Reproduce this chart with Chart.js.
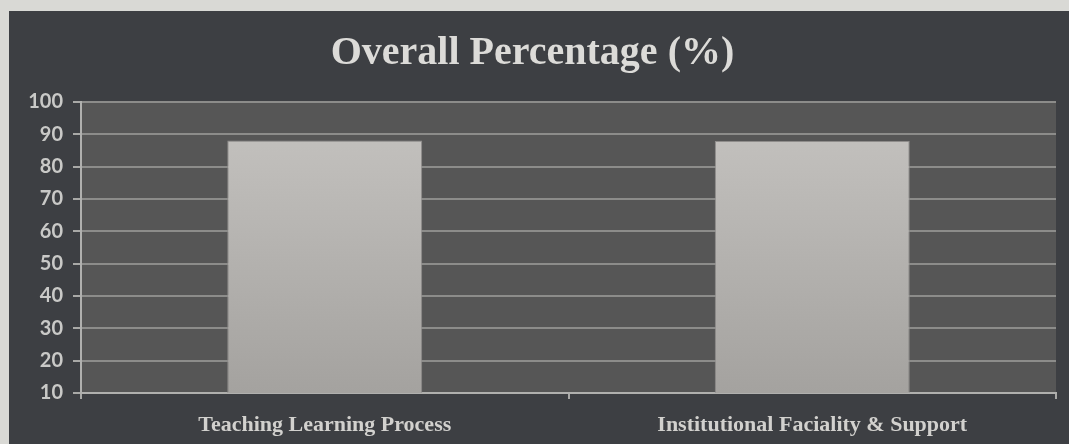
<!DOCTYPE html>
<html lang="en">
<head>
    <meta charset="UTF-8">
    <title>Overall Percentage</title>
    <style>
        body {
            margin: 0;
            background: #d9d9d5;
            width: 1069px;
            height: 444px;
            overflow: hidden;
        }
        #panel {
            position: absolute;
            left: 9px;
            top: 11px;
            width: 1060px;
            height: 433px;
            background: #3d3f43;
        }
    </style>
    <script src="https://cdn.jsdelivr.net/npm/chart.js"></script>
</head>
<body>
    <div id="panel">
        <canvas id="chart" width="1060" height="433"></canvas>
    </div>

    <script>
        // Data
        const categories = ['Teaching Learning Process', 'Institutional Faciality & Support'];
        const percentages = [88.1, 87.9];
        const yTicks = [10, 20, 30, 40, 50, 60, 70, 80, 90, 100];

        // plot area background
        const plotBg = {
            id: 'plotBg',
            beforeDraw(chart) {
                const { ctx, chartArea: a } = chart;
                ctx.save();
                ctx.fillStyle = '#565656';
                ctx.fillRect(a.left, a.top, a.right - a.left, a.bottom - a.top);
                ctx.restore();
            }
        };

        function barFill(context) {
            const a = context.chart.chartArea;
            if (!a) return '#b5b3b0';
            const g = context.chart.ctx.createLinearGradient(0, a.top, 0, a.bottom);
            g.addColorStop(0, '#c6c4c1');
            g.addColorStop(1, '#a4a29f');
            return g;
        }

        new Chart(document.getElementById('chart'), {
            type: 'bar',
            data: {
                labels: categories,
                datasets: [{
                    data: percentages,
                    backgroundColor: barFill,
                    borderColor: '#8f8d8b',
                    borderWidth: 1,
                    barPercentage: 0.4,
                    categoryPercentage: 1.0
                }]
            },
            options: {
                responsive: false,
                animation: false,
                layout: { padding: { top: 14, right: 13, left: 0, bottom: 0 } },
                plugins: {
                    legend: { display: false },
                    tooltip: { enabled: false },
                    title: {
                        display: true,
                        text: 'Overall Percentage (%)',
                        color: '#dcdbd8',
                        font: { family: 'Liberation Serif', size: 40, weight: 'bold' },
                        padding: { top: 5, bottom: 24 }
                    }
                },
                scales: {
                    y: {
                        min: 10,
                        max: 100,
                        afterFit: s => { s.width = 72; },
                        afterBuildTicks: s => { s.ticks = yTicks.map(v => ({ value: v })); },
                        ticks: {
                            color: '#c9c9c7',
                            padding: 10,
                            font: { family: 'Lato', size: 20, weight: 'bold' }
                        },
                        grid: {
                            color: '#8c8c8a',
                            lineWidth: 2,
                            tickLength: 8,
                            tickColor: '#a9a9a7'
                        },
                        border: { color: '#b0b0ae', width: 2 }
                    },
                    x: {
                        afterFit: s => { s.height = 51; },
                        ticks: {
                            color: '#d2d1ce',
                            padding: 13,
                            font: { family: 'Liberation Serif', size: 22, weight: 'bold' }
                        },
                        grid: {
                            offset: true,
                            drawOnChartArea: false,
                            tickLength: 6,
                            tickColor: '#a9a9a7',
                            lineWidth: 2
                        },
                        border: { color: '#b0b0ae', width: 2 }
                    }
                }
            },
            plugins: [plotBg]
        });
    </script>
</body>
</html>
